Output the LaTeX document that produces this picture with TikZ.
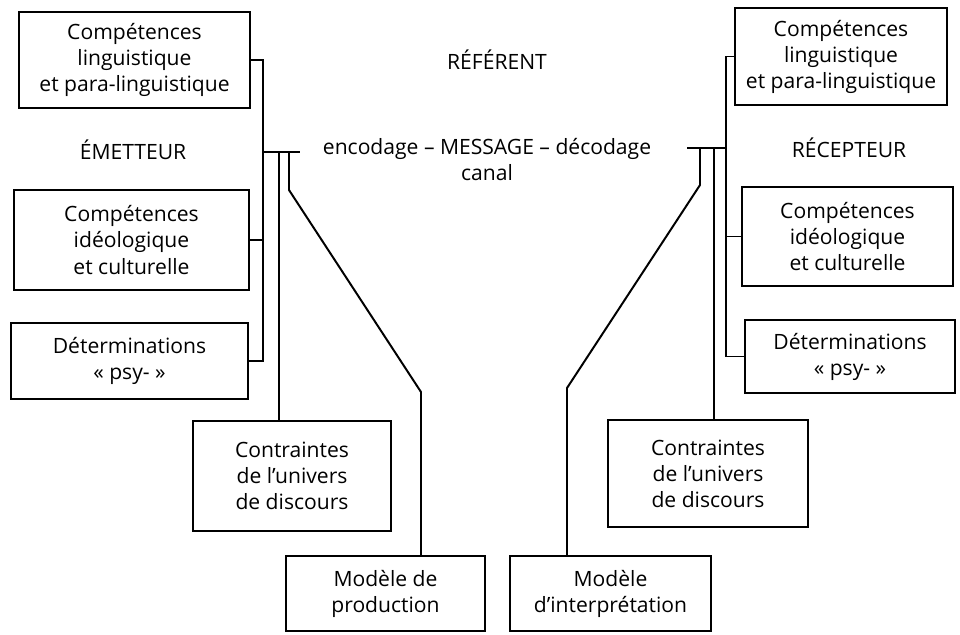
\documentclass[tikz,border=0pt]{standalone}
\usepackage{fontspec}
\setmainfont{Open Sans}

\tikzset{
  box/.style={draw, line width=1.4pt, inner sep=0pt, align=center},
  wire/.style={line width=1.4pt},
  txt/.style={inner sep=0pt, align=center}
}

\begin{document}
\begin{tikzpicture}[x=0.025cm, y=-0.025cm, font=\fontsize{15}{18.5}\selectfont]
		\useasboundingbox (0,0) rectangle (960,634);
		%%%%% EMETTEUR %%%%%
		\node[box, minimum width=5.775cm, minimum height=2.4cm] (lingE) at (134.5,60) {Compétences\\linguistique\\et para-linguistique};
		\node[txt] (emetteur) at (133,150) {ÉMETTEUR};
		\node[box, minimum width=5.875cm, minimum height=2.5cm] (ideoE) at (131.5,240) {Compétences\\idéologique\\et culturelle};
		\node[box, minimum width=5.925cm, minimum height=1.9cm] (psyE) at (129.5,361) {Déterminations\\« psy- »};
		\node[box, minimum width=4.95cm, minimum height=2.75cm] (univE) at (292,476) {Contraintes\\de l’univers\\de discours};
		\node[box, minimum width=4.975cm, minimum height=1.875cm] (modE) at (385.5,593.5) {Modèle de\\production};
		
		\coordinate (spineE) at (263,152);
		\coordinate (tickE) at (300,152);
		\coordinate (univEtop) at (279,152);
		\coordinate (modEtop) at (289,152);
		\coordinate (kinkE) at (421,392);
		
		\draw[wire] (lingE.east) -| (spineE) |- (psyE.east);
		\draw[wire] (ideoE.east) -- (ideoE.east -| spineE);
		\draw[wire] (spineE) -- (tickE);
		\draw[wire] (univEtop) -- (univEtop |- univE.north);
		\draw[wire] (modEtop) -- ++(0,38) -- (kinkE) -- (kinkE |- modE.north);
		
		%%%%% MESSAGE %%%%%
		\node[txt] (referent) at (497,60) {RÉFÉRENT};
		\node[txt] (message) at (487,149) {encodage – MESSAGE – décodage};
		\node[txt] (canal) at (487,173) {canal};
		
		%%%%% RECEPTEUR %%%%%
		\node[box, minimum width=5.3cm, minimum height=2.425cm] (lingR) at (841,56.5) {Compétences\\linguistique\\et para-linguistique};
		\node[txt] (recepteur) at (849,148) {RÉCEPTEUR};
		\node[box, minimum width=5.275cm, minimum height=2.475cm] (ideoR) at (847.5,236.5) {Compétences\\idéologique\\et culturelle};
		\node[box, minimum width=5.25cm, minimum height=1.825cm] (psyR) at (850,356.5) {Déterminations\\« psy- »};
		\node[box, minimum width=5cm, minimum height=2.675cm] (univR) at (708,473.5) {Contraintes\\de l’univers\\de discours};
		\node[box, minimum width=5.025cm, minimum height=1.875cm] (modR) at (610.5,593.5) {Modèle\\d’interprétation};
		
		\coordinate (spineR) at (726,148);
		\coordinate (tickR) at (687,148);
		\coordinate (univRtop) at (714,148);
		\coordinate (modRtop) at (700,148);
		\coordinate (kinkR) at (567,388);
		
		\draw[wire] (lingR.west) -| (spineR) |- (psyR.west);
		\draw[wire] (ideoR.west) -- (ideoR.west -| spineR);
		\draw[wire] (spineR) -- (tickR);
		\draw[wire] (univRtop) -- (univRtop |- univR.north);
		\draw[wire] (modRtop) -- ++(0,37) -- (kinkR) -- (kinkR |- modR.north);
		%%%%% END %%%%%
\end{tikzpicture}
\end{document}
